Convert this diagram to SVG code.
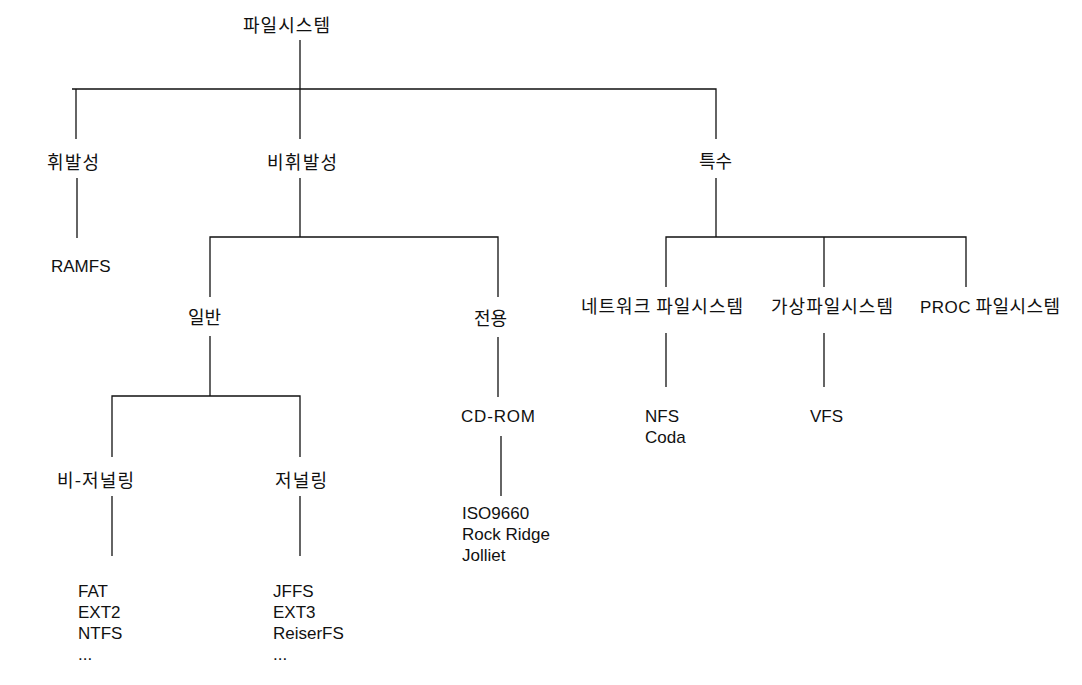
<svg xmlns="http://www.w3.org/2000/svg" width="1082" height="685" viewBox="0 0 1082 685">
<style>
.k{font-family:"Noto Sans CJK KR","Liberation Sans",sans-serif;font-size:18px;fill:#111}
.l{font-family:"Liberation Sans","Noto Sans CJK KR",sans-serif;font-size:17px;fill:#111}
.c{fill:none;stroke:#111;stroke-width:1.3}
</style>
<rect width="1082" height="685" fill="#fff"/>
<g id="connectors">
<path class="c" d="M300,40 V139"/>
<path class="c" d="M72,89 H716 V139"/>
<path class="c" d="M76,89 V139"/>
<path class="c" d="M77,178 V238"/>
<path class="c" d="M300,178 V237"/>
<path class="c" d="M210,297 V237 H498 V297"/>
<path class="c" d="M210,336 V396"/>
<path class="c" d="M112,457 V396 H300 V457"/>
<path class="c" d="M112,496 V556"/>
<path class="c" d="M300,496 V556"/>
<path class="c" d="M498,337 V397"/>
<path class="c" d="M501,436 V496"/>
<path class="c" d="M716,178 V237"/>
<path class="c" d="M666,287 V237 H966 V287"/>
<path class="c" d="M824,237 V287"/>
<path class="c" d="M666,333 V387"/>
<path class="c" d="M824,333 V387"/>
</g>
<g id="root"><text class="k" x="243" y="32" textLength="87" lengthAdjust="spacing">파일시스템</text></g>
<g id="volatile"><text class="k" x="47" y="169" textLength="52" lengthAdjust="spacing">휘발성</text></g>
<g id="nonvolatile"><text class="k" x="267" y="169" textLength="70" lengthAdjust="spacing">비휘발성</text></g>
<g id="special"><text class="k" x="699" y="168">특수</text></g>
<g id="ramfs"><text class="l" x="51" y="272">RAMFS</text></g>
<g id="general"><text class="k" x="188" y="324">일반</text></g>
<g id="dedicated"><text class="k" x="474" y="325">전용</text></g>
<g id="nonjournaling"><text class="k" x="57" y="487" textLength="77" lengthAdjust="spacing">비-저널링</text></g>
<g id="journaling"><text class="k" x="275" y="487" textLength="52" lengthAdjust="spacing">저널링</text></g>
<g id="nonjournaling-list"><text class="l" x="78" y="597">FAT</text><text class="l" x="78" y="618">EXT2</text><text class="l" x="78" y="639">NTFS</text><text class="l" x="78" y="660">...</text></g>
<g id="journaling-list"><text class="l" x="273" y="597">JFFS</text><text class="l" x="273" y="618">EXT3</text><text class="l" x="273" y="639">ReiserFS</text><text class="l" x="273" y="660">...</text></g>
<g id="cdrom"><text class="l" x="461" y="422" textLength="74" lengthAdjust="spacing">CD-ROM</text></g>
<g id="cdrom-list"><text class="l" x="462" y="519">ISO9660</text><text class="l" x="462" y="540">Rock Ridge</text><text class="l" x="462" y="561">Jolliet</text></g>
<g id="network"><text class="k" x="581" y="313" textLength="162" lengthAdjust="spacing">네트워크 파일시스템</text></g>
<g id="virtual"><text class="k" x="771" y="313" textLength="122" lengthAdjust="spacing">가상파일시스템</text></g>
<g id="proc"><text class="k" x="920" y="313" textLength="140" lengthAdjust="spacing"><tspan font-family="Liberation Sans" font-size="17">PROC</tspan> 파일시스템</text></g>
<g id="network-list"><text class="l" x="645" y="422">NFS</text><text class="l" x="645" y="443">Coda</text></g>
<g id="vfs"><text class="l" x="810" y="422">VFS</text></g>
</svg>
